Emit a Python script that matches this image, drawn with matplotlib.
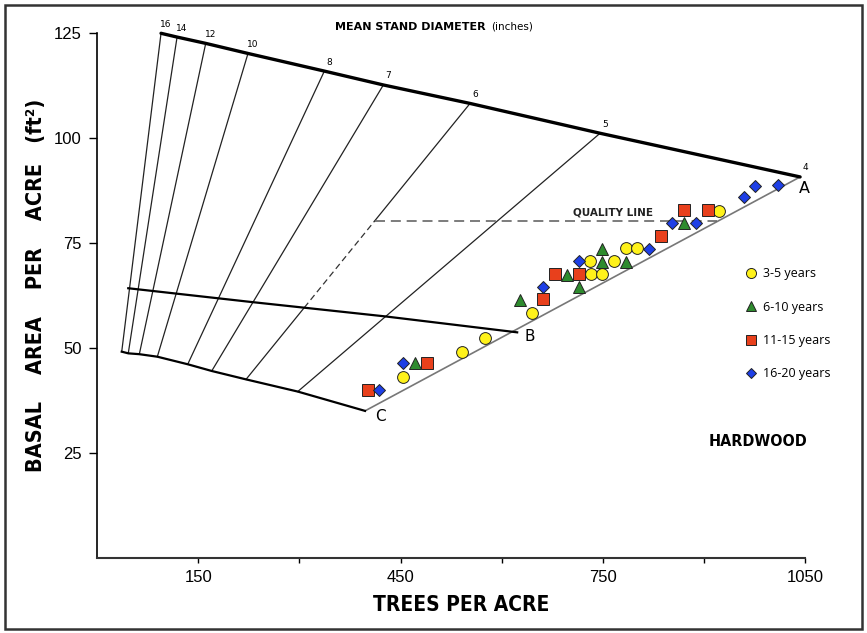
import numpy as np
import matplotlib
matplotlib.use('Agg')
import matplotlib.pyplot as plt
import matplotlib.patches as patches

# ========== 0. 字体 ==========
plt.rcParams['font.family'] = ['Liberation Sans', 'DejaVu Sans']
cond = dict(family='DejaVu Sans', fontstretch='condensed', fontweight='bold')

# ========== 1. 数据 ==========
# 平均直径线（英寸）在上边界(A线)和下边界(C线)上的端点
diam    = [16, 14, 12, 10, 8, 7, 6, 5, 4]
top_tpa = [94.7, 118.5, 161, 223.7, 337, 424.5, 553.1, 746, 1042.7]
top_ba  = [125.0, 124.1, 122.6, 120.2, 116.0, 112.7, 108.3, 101.2, 90.8]
bot_tpa = [36.4, 46.1, 62.5, 89.2, 134.3, 169.9, 220.8, 297.5, 397.3]
bot_ba  = [49.2, 48.8, 48.6, 48.0, 46.2, 44.6, 42.6, 39.7, 35.1]

# B 线
b_tpa = [46.1, 230, 427, 623]
b_ba  = [64.3, 61.0, 57.6, 53.8]

# 质量线
q_ba  = 80.3
q_tpa = [411.5, 919.6]

# 观测点（年龄组）
tpa_3_5  = [453, 541, 575, 645, 731, 732, 749, 767, 784, 801, 923]
ba_3_5   = [43.2, 49.2, 52.4, 58.5, 70.8, 67.6, 67.6, 70.8, 73.8, 73.8, 82.8]
tpa_6_10 = [471, 627, 697, 715, 749, 749, 784, 870]
ba_6_10  = [46.4, 61.5, 67.5, 64.7, 73.6, 70.6, 70.6, 79.8]
tpa_11_15 = [401, 489, 662, 679, 715, 836, 871, 906]
ba_11_15  = [40.1, 46.4, 61.7, 67.6, 67.6, 76.8, 82.9, 82.9]
tpa_16_20 = [418, 453, 662, 715, 819, 853, 888, 959, 976, 1010]
ba_16_20  = [40.1, 46.4, 64.7, 70.9, 73.6, 79.8, 79.8, 86.1, 88.7, 88.9]

# ========== 2. 画布 ==========
fig = plt.figure(figsize=(8.67, 6.33), dpi=100)
ax = fig.add_axes([0.1121, 0.1180, 0.8164, 0.8294])
ax.set_xlim(0, 1050); ax.set_ylim(0, 125)

# 外框
fig.patches.append(patches.Rectangle((5/867, 4/633), 857/867, 624/633, transform=fig.transFigure,
                                     fill=False, lw=1.8, ec='#333333'))

# ========== 3. 直径线 ==========
for i, d in enumerate(diam):
    xs = [bot_tpa[i], top_tpa[i]]; ys = [bot_ba[i], top_ba[i]]
    if d == 4:
        ax.plot(xs, ys, color='#777777', lw=1.2, zorder=2)
    elif d == 6:
        # 在 B 线与质量线之间为虚线
        t = np.linspace(0, 1, 2001)
        lx = xs[0] + t*(xs[1]-xs[0]); ly = ys[0] + t*(ys[1]-ys[0])
        tb = t[np.argmin(np.abs(ly - np.interp(lx, b_tpa, b_ba)))]
        tq = (q_ba - ys[0]) / (ys[1] - ys[0])
        p = lambda s: (xs[0] + s*(xs[1]-xs[0]), ys[0] + s*(ys[1]-ys[0]))
        (x0, y0), (x1, y1), (x2, y2) = p(tb), p(tq), p(1)
        ax.plot([xs[0], x0], [ys[0], y0], color='#222222', lw=0.9, zorder=2)
        ax.plot([x0, x1], [y0, y1], color='#333333', lw=0.9, ls=(0, (5, 3)), zorder=2)
        ax.plot([x1, x2], [y1, y2], color='#222222', lw=0.9, zorder=2)
    else:
        ax.plot(xs, ys, color='#222222', lw=0.9, zorder=2)
    ax.annotate(str(d), (top_tpa[i], top_ba[i]), xytext=(3.5, 6.5), textcoords='offset points',
                ha='center', va='center', fontsize=6.5, family='DejaVu Sans',
                annotation_clip=False)

# A 线、C 线、B 线
ax.plot(top_tpa, top_ba, color='black', lw=2.4, solid_capstyle='round', zorder=2, clip_on=False)
ax.plot(bot_tpa, bot_ba, color='black', lw=1.6, zorder=2)
ax.plot(b_tpa, b_ba, color='black', lw=1.6, zorder=2)

# 质量线
ax.plot(q_tpa, [q_ba, q_ba], color='#666666', lw=1.2, ls=(0, (6, 3.5)), zorder=2)
ax.text(765, 82.4, 'QUALITY LINE', fontsize=7.5, fontweight='bold', ha='center', va='center',
        family='DejaVu Sans', color='#222222')

ax.text(1049, 88.0, 'A', fontsize=11.5, ha='center', va='center', family='DejaVu Sans')
ax.text(642, 52.8, 'B', fontsize=11, ha='center', va='center', family='DejaVu Sans')
ax.text(420, 33.7, 'C', fontsize=11, ha='center', va='center', family='DejaVu Sans')

ax.text(353, 126.6, 'MEAN STAND DIAMETER', fontsize=8, fontweight='bold', ha='left',
        va='center', family='DejaVu Sans', clip_on=False)
ax.text(584, 126.5, '(inches)', fontsize=7.5, ha='left', va='center', family='DejaVu Sans',
        clip_on=False)

ax.text(981, 27.7, 'HARDWOOD', fontsize=11.5, ha='center', va='center', **cond)

# ========== 4. 数据点 ==========
ek = dict(ls='none', mec='#222222', mew=0.7, zorder=4)
ax.plot(tpa_3_5, ba_3_5, 'o', ms=8.5, mfc='#FFF21A', label='3-5 years', **ek)
ax.plot(tpa_6_10, ba_6_10, '^', ms=8.8, mfc='#2E8B2E', label='6-10 years', **ek)
ax.plot(tpa_11_15, ba_11_15, 's', ms=8.2, mfc='#E8401C', label='11-15 years', **ek)
ax.plot(tpa_16_20, ba_16_20, 'D', ms=6.3, mfc='#1E3FE6', label='16-20 years', **ek)

leg = ax.legend(loc='upper left', bbox_to_anchor=(0.906, 0.566), frameon=False,
                prop={'family': 'Open Sans', 'size': 9}, labelspacing=1.62,
                handlelength=1.0, handletextpad=0.5, markerscale=0.85, borderpad=0)

# ========== 5. 坐标轴 ==========
ax.spines['top'].set_visible(False); ax.spines['right'].set_visible(False)
ax.spines['left'].set_linewidth(1.2); ax.spines['bottom'].set_linewidth(1.5)
ax.spines['bottom'].set_color('#333333')
ax.set_xticks([150, 300, 450, 600, 750, 900, 1050])
ax.set_xticklabels(['150', '', '450', '', '750', '', '1050'])
ax.set_yticks([25, 50, 75, 100, 125])
ax.tick_params(axis='x', length=3.5, width=1, pad=5, labelsize=12)
ax.tick_params(axis='y', length=6, width=1, pad=5, labelsize=12)

# 轴标题（粗体窄字）
fig.text(461/867, 1 - 605/633, 'TREES PER ACRE', fontsize=15, ha='center', va='center', **cond)
fig.text(36/867, 1 - 285/633, 'BASAL    AREA    PER    ACRE   (ft\u00b2)', fontsize=15.5, rotation=90,
         ha='center', va='center', **cond)

fig.savefig('out.png', dpi=100)
